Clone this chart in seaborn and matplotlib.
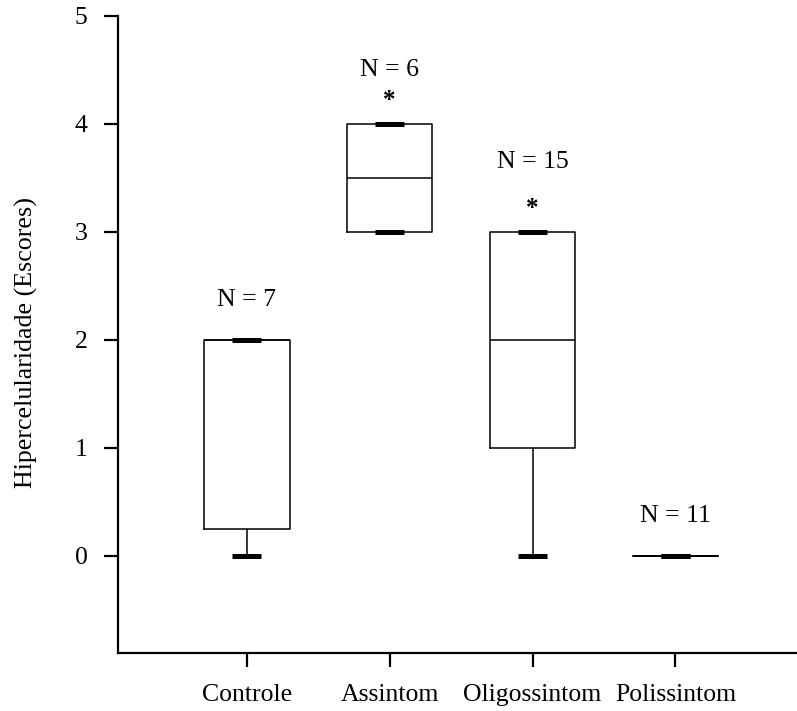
import numpy as np
import pandas as pd
import matplotlib
matplotlib.use("Agg")
import matplotlib.pyplot as plt
import seaborn as sns

# Scores (0-5) per group
groups = ["Controle", "Assintom", "Oligossintom", "Polissintom"]
controle = [0, 0, 0.5, 2, 2, 2, 2]
assintom = [3, 3, 3, 4, 4, 4]
oligossintom = [0, 0, 0, 1, 1, 1, 1, 2, 2, 2, 3, 3, 3, 3, 3]
polissintom = [0, 0, 0, 0, 0, 0, 0, 0, 0, 0, 0]
significant = [False, True, True, False]
y_ticks = [0, 1, 2, 3, 4, 5]
y_label = "Hipercelularidade (Escores)"

values = [controle, assintom, oligossintom, polissintom]
df = pd.DataFrame({
    "grupo": np.repeat(groups, [len(v) for v in values]),
    "escore": np.concatenate([np.asarray(v, dtype=float) for v in values]),
})

sns.set_theme(style="ticks")
plt.rcParams["font.family"] = ["Liberation Serif", "DejaVu Serif"]
plt.rcParams["text.color"] = "black"
plt.rcParams["axes.labelcolor"] = "black"
plt.rcParams["xtick.color"] = "black"
plt.rcParams["ytick.color"] = "black"

fig = plt.figure(figsize=(7.97, 7.11), dpi=100)
ax = fig.add_axes([0.148, 0.0816, 0.852, 0.8959])

sns.boxplot(
    data=df, x="grupo", y="escore", order=groups, ax=ax,
    width=0.6, fill=False, color="black", linewidth=1.1,
    whis=1.5, showfliers=False, capwidths=0.2,
    capprops=dict(linewidth=3.6, color="black", solid_capstyle="butt"),
    medianprops=dict(linewidth=1.1, color="black"),
)

# Group size and significance marks above each box
n_offsets = [0.37, 0.5, 0.65, 0.37]
for i, v in enumerate(values):
    top = max(v)
    ax.text(i, top + n_offsets[i], f"N = {len(v)}", ha="center", va="center",
            fontsize=18.5)
    if significant[i]:
        ax.text(i, top + 0.22, "*", ha="center", va="center", fontsize=18,
                fontweight="bold")

ax.set_xlim(-0.9, 3.85)
ax.set_ylim(-0.9, 5)
ax.set_yticks(y_ticks)
ax.set_yticklabels([str(t) for t in y_ticks])
ax.set_xlabel("")
ax.set_ylabel(y_label, fontsize=18.7)
ax.yaxis.set_label_coords(-0.118, 0.4875)
ax.tick_params(axis="both", labelsize=18.5, width=1.6, length=10)
ax.tick_params(axis="y", pad=12)
ax.tick_params(axis="x", pad=12)
sns.despine(ax=ax, top=True, right=True)
for side in ("left", "bottom"):
    ax.spines[side].set_linewidth(1.6)
    ax.spines[side].set_color("black")

fig.savefig("out.png", dpi=100)
